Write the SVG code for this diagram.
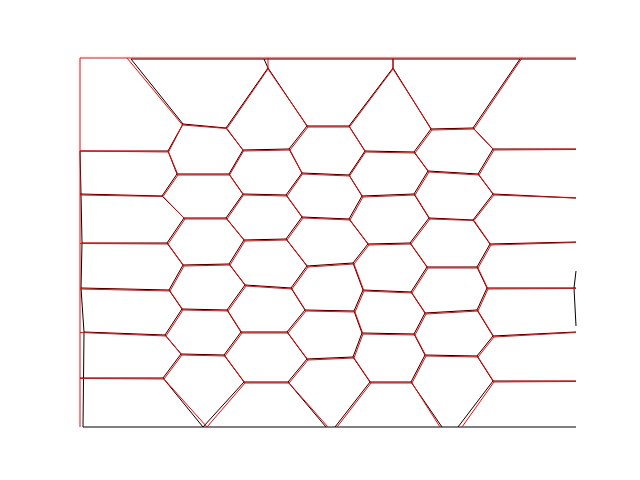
<svg xmlns="http://www.w3.org/2000/svg" width="640" height="480" viewBox="0 0 640 480">
<style>
.k{fill:none;stroke:#000;stroke-width:1;stroke-linejoin:round}
.r{fill:none;stroke:#f00;stroke-width:1;stroke-linejoin:round}
</style>
<rect width="640" height="480" fill="#fff"/>
<g id="black-cells">
<path class="k" d="M131 59 L576 59 M83 427 L576 427 M80 151 L81 194 L82 243 L81 288 L84 332 L83 427 M576 271 L574 288 L576 326"/>
<path class="k" d="M131 59 L183 124 L168 151 L80 151
M183 124 L226 128 L268 68 L264 59
M226 128 L243 150 L289 149 L307 126 L268 68
M168 151 L177 174 L229 174 L243 150
M289 149 L302 173 L349 175 L365 151 L349 126 L307 126
M349 126 L393 68 L393 59
M393 68 L431 129 L414 152 L365 151
M431 129 L473 128 L520 59
M473 128 L493 149 L576 149
M493 149 L478 174 L428 171 L414 152
M177 174 L162 196 L80 194
M162 196 L184 218 L226 218 L243 194 L229 174
M243 194 L286 195 L302 173
M286 195 L302 217 L349 219 L362 196 L349 175
M362 196 L414 194 L428 171
M414 194 L429 218 L473 220 L493 194 L478 174
M493 194 L576 198
M184 218 L167 243 L82 243
M167 243 L183 265 L229 264 L244 240 L226 218
M244 240 L286 239 L302 217
M286 239 L307 266 L353 263 L368 244 L349 219
M368 244 L410 243 L429 218
M410 243 L427 267 L477 267 L490 244 L473 220
M490 244 L576 242
M183 265 L169 290 L81 288
M169 290 L182 309 L227 310 L245 285 L229 264
M245 285 L291 288 L307 266
M291 288 L305 310 L354 311 L363 290 L353 263
M363 290 L411 292 L427 267
M411 292 L425 313 L477 310 L487 288 L477 267
M487 288 L576 288
M182 309 L165 335 L84 332
M165 335 L181 354 L224 355 L241 332 L227 310
M241 332 L287 332 L305 310
M287 332 L307 359 L353 357 L362 333 L354 311
M362 333 L414 334 L425 313
M414 334 L425 355 L477 356 L493 336 L477 310
M493 336 L576 332
M181 354 L163 378 L80 378
M163 378 L203 427 L244 382 L224 355
M244 382 L288 382 L307 359
M288 382 L326 427
M353 357 L370 382 L411 382 L425 355
M370 382 L335 427
M411 382 L442 427
M477 356 L493 381 L576 381
M493 381 L458 427"/>
</g>
<g id="red-cells">
<path class="r" d="M80 58 L576 58 M80 58 L80 427"/>
<path class="r" d="M127 58 L182.5 125 L168.5 152 L80 151
M182.5 125 L227 128.5 L268 69 L268 58
M227 128.5 L243.5 151 L290 150 L308 127 L268 69
M168.5 152 L178 175 L229.5 175 L243.5 151
M290 150 L302.5 174 L349.5 176 L365.5 152 L349.5 127 L308 127
M349.5 127 L393 69 L393 58
M393 69 L432 130 L415 153 L365.5 152
M432 130 L474 129 L522 58
M474 129 L494 150 L576 149.5
M494 150 L479 175 L429 172 L415 153
M178 175 L163 196.5 L80 195
M163 196.5 L185 219 L227 219 L243.5 195 L229.5 175
M243.5 195 L287 196 L302.5 174
M287 196 L303 218 L350 220 L363 197 L349.5 176
M363 197 L415 195 L429 172
M415 195 L430 219 L474 220.5 L494 195 L479 175
M494 195 L576 198
M185 219 L168 244 L80 243.5
M168 244 L184 266 L230 265 L245 241 L227 219
M245 241 L287 240 L303 218
M287 240 L308 267 L354 264 L369 245 L350 220
M369 245 L411 244 L430 219
M411 244 L428 268 L478 268 L491 245 L474 220.5
M491 245 L576 242.5
M184 266 L170 291 L80 289
M170 291 L183 310 L228 311 L246 286 L230 265
M246 286 L292 289 L308 267
M292 289 L306 311 L355 312 L364 291 L354 264
M364 291 L412 293 L428 268
M412 293 L426 314 L478 311 L488 289 L478 268
M488 289 L576 288.5
M183 310 L166 336 L80 332.5
M166 336 L182 355 L225 356 L242 333 L228 311
M242 333 L288 333 L306 311
M288 333 L308 360 L354 358 L363 334 L355 312
M363 334 L415 335 L426 314
M415 335 L426 356 L478 357 L494 337 L478 311
M494 337 L576 332.5
M182 355 L164 379 L80 378.5
M164 379 L207 427 L245 383 L225 356
M245 383 L289 383 L308 360
M289 383 L328 427
M354 358 L371 383 L412 383 L426 356
M371 383 L337 427
M412 383 L440 427
M478 357 L494 382 L576 381.5
M494 382 L462 427"/>
</g>
</svg>
